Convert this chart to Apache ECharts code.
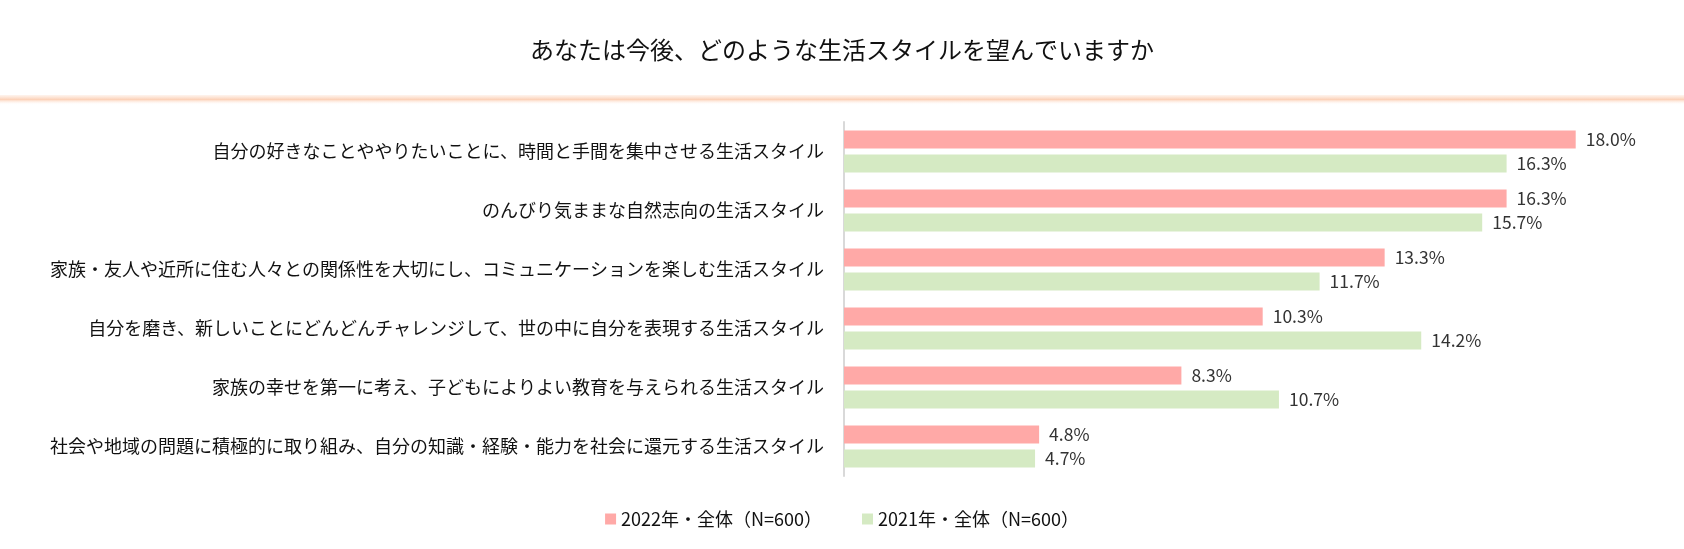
<!DOCTYPE html>
<html>
<head>
<meta charset="utf-8">
<script src="https://cdn.jsdelivr.net/npm/echarts@6/dist/echarts.min.js"></script>
<style>
  html, body { margin: 0; padding: 0; background: #fff; }
  #chart { width: 1684px; height: 549px; }
</style>
</head>
<body>
<div id="chart"></div>
<script>
// 回答項目（上から順）
const categories = [
  "自分の好きなことややりたいことに、時間と手間を集中させる生活スタイル",
  "のんびり気ままな自然志向の生活スタイル",
  "家族・友人や近所に住む人々との関係性を大切にし、コミュニケーションを楽しむ生活スタイル",
  "自分を磨き、新しいことにどんどんチャレンジして、世の中に自分を表現する生活スタイル",
  "家族の幸せを第一に考え、子どもによりよい教育を与えられる生活スタイル",
  "社会や地域の問題に積極的に取り組み、自分の知識・経験・能力を社会に還元する生活スタイル"
]
const seriesNames = ["2022年・全体（N=600）", "2021年・全体（N=600）"]
const values2022 = [18.0, 16.3, 13.3, 10.3, 8.3, 4.8]
const values2021 = [16.3, 15.7, 11.7, 14.2, 10.7, 4.7]

const FONT = '"Noto Sans CJK JP", "Noto Sans", sans-serif'
const chart = echarts.init(document.getElementById('chart'))

const makeSeries = (name, data, color) => ({
  name: name,
  type: 'bar',
  data: data,
  barWidth: 18,
  barGap: '33%',
  itemStyle: { color: color },
  label: {
    show: true,
    position: 'right',
    distance: 10,
    color: '#333333',
    fontSize: 17.5,
    fontFamily: FONT,
    formatter: p => p.value.toFixed(1) + '%'
  }
})

const option = {
  backgroundColor: '#fff',
  animation: false,
  textStyle: { fontFamily: FONT },
  title: {
    text: 'あなたは今後、どのような生活スタイルを望んでいますか',
    left: 'center',
    top: 33,
    textStyle: { fontSize: 24, fontWeight: 'normal', color: '#111111', fontFamily: FONT }
  },
  // タイトル下のオレンジの帯
  graphic: [{
    type: 'rect',
    shape: { x: 0, y: 95, width: 1684, height: 10 },
    style: {
      fill: new echarts.graphic.LinearGradient(0, 0, 0, 1, [
        { offset: 0, color: 'rgba(253,220,200,0.3)' },
        { offset: 0.45, color: 'rgba(252,210,185,1)' },
        { offset: 1, color: 'rgba(255,255,255,0)' }
      ])
    },
    silent: true
  }],
  legend: {
    data: seriesNames,
    left: 'center',
    top: 505,
    itemWidth: 11,
    itemHeight: 11,
    itemGap: 40,
    icon: 'rect',
    textStyle: { fontSize: 18, color: '#111111', fontFamily: FONT }
  },
  grid: { left: 844, right: 27, top: 122, height: 354 },
  xAxis: {
    type: 'value',
    min: 0,
    max: 20,
    show: false,
    splitLine: { show: false }
  },
  yAxis: {
    type: 'category',
    data: categories,
    inverse: true,
    axisTick: { show: false },
    axisLine: { show: true, lineStyle: { color: '#d9d9d9', width: 2 } },
    axisLabel: { fontSize: 18, color: '#111111', margin: 20, fontFamily: FONT }
  },
  series: [
    makeSeries(seriesNames[0], values2022, '#ffa9a7'),
    makeSeries(seriesNames[1], values2021, '#d5eac3')
  ]
}

chart.setOption(option)
</script>
</body>
</html>
